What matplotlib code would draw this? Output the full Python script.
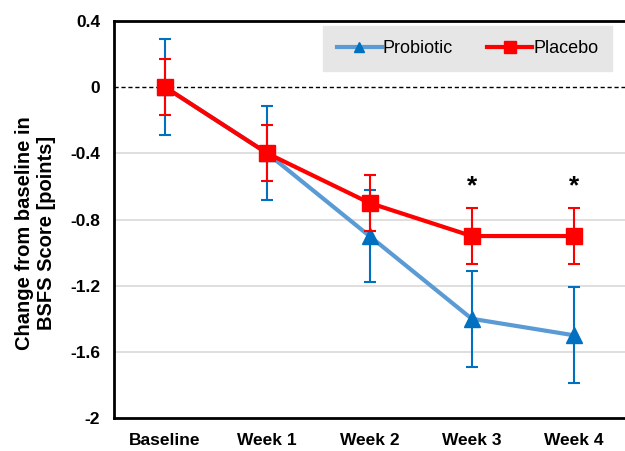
import numpy as np
import matplotlib.pyplot as plt
from matplotlib.lines import Line2D

plt.rcParams['font.family'] = ['Liberation Sans', 'DejaVu Sans']

# data
timepoints = ["Baseline", "Week 1", "Week 2", "Week 3", "Week 4"]
probiotic = [0.0, -0.4, -0.9, -1.4, -1.5]
probiotic_err = [0.29, 0.285, 0.28, 0.29, 0.29]
placebo = [0.0, -0.4, -0.7, -0.9, -0.9]
placebo_err = [0.17, 0.17, 0.17, 0.17, 0.17]
sig_points = [3, 4]
sig_y = -0.6

x = np.arange(len(timepoints))

fig = plt.figure(figsize=(6.25, 4.51), dpi=100)
ax = fig.add_axes([0.1824, 0.0732, 0.8176, 0.8802])

# grid
for gy in [-0.4, -0.8, -1.2, -1.6]:
    ax.axhline(gy, color="#d9d9d9", lw=1.2, zorder=0)
ax.axhline(0, color="black", lw=1, ls=(0, (3, 2)), zorder=1)

ax.errorbar(x, probiotic, yerr=probiotic_err, color="#5B9BD5", lw=3,
            marker="^", ms=11, mfc="#0070C0", mec="#0070C0",
            ecolor="#0070C0", elinewidth=1.5, capsize=4, capthick=1.5,
            zorder=3)
ax.errorbar(x, placebo, yerr=placebo_err, color="#FF0000", lw=3,
            marker="s", ms=11, mfc="#FF0000", mec="#FF0000",
            ecolor="#FF0000", elinewidth=1.5, capsize=4, capthick=1.5,
            zorder=4)

for i in sig_points:
    ax.text(x[i], sig_y, "*", ha="center", va="center", fontsize=19,
            fontweight="bold")

ax.set_xlim(-0.5, 4.5)
ax.set_ylim(-2, 0.4)
ax.set_yticks([0.4, 0, -0.4, -0.8, -1.2, -1.6, -2])
ax.set_yticklabels(["0.4", "0", "-0.4", "-0.8", "-1.2", "-1.6", "-2"])
ax.set_xticks(x)
ax.set_xticklabels(timepoints)
ax.tick_params(length=0, labelsize=12.5)
ax.tick_params(axis="y", pad=10)
ax.tick_params(axis="x", pad=11)
for lab in ax.get_xticklabels() + ax.get_yticklabels():
    lab.set_fontweight("bold")

ax.set_ylabel("Change from baseline in\nBSFS Score [points]", fontsize=14.5,
              fontweight="bold")
ax.yaxis.set_label_coords(-0.113, 0.466)

for side in ["left", "top", "bottom"]:
    ax.spines[side].set_linewidth(2)
ax.spines["right"].set_visible(False)

handles = [
    Line2D([], [], color="#5B9BD5", lw=3, marker="^", ms=7,
           mfc="#0070C0", mec="#0070C0"),
    Line2D([], [], color="#FF0000", lw=3, marker="s", ms=9,
           mfc="#FF0000", mec="#FF0000"),
]
leg = ax.legend(handles, ["Probiotic", "Placebo"], loc="upper right", ncol=2,
                frameon=True, fontsize=13, bbox_to_anchor=(0.985, 1.0),
                handlelength=2.5, handletextpad=0.05, columnspacing=1.9,
                borderpad=0.75, borderaxespad=0.3, fancybox=False)
leg.get_frame().set_facecolor("#e6e6e6")
leg.get_frame().set_edgecolor("#e6e6e6")
leg.get_frame().set_alpha(1)

fig.savefig("out.png", dpi=100)
